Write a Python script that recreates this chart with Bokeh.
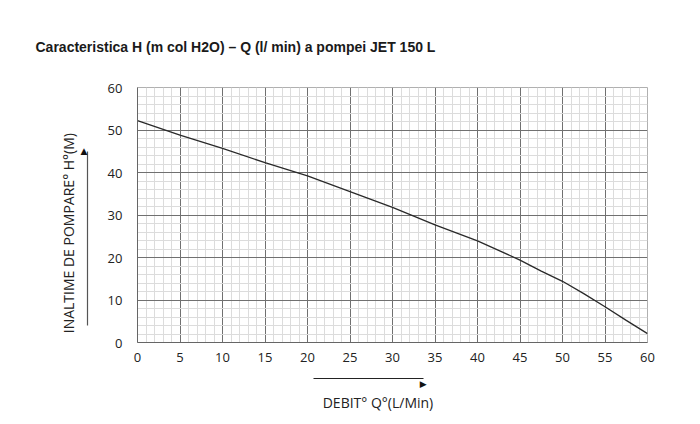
import math
from bokeh.plotting import figure
from bokeh.models import (SingleIntervalTicker, FixedTicker, LinearAxis, PrintfTickFormatter,
                          Range1d)
from bokeh.embed import file_html
from bokeh.resources import INLINE

# Data
flow_q = [0, 5, 10, 15, 20, 25, 30, 35, 40, 45, 47.5, 50, 52.5, 55, 57.5, 60]
head_h = [52.2, 48.8, 45.7, 42.3, 39.2, 35.5, 31.8, 27.7, 23.9, 19.4, 16.8, 14.4, 11.5, 8.4, 5.2, 2.1]
title_text = "Caracteristica H (m col H2O) \u2013 Q (l/ min) a pompei JET 150 L"
x_label_text = "DEBIT\u00b0 Q\u00b0(L/Min)"
y_label_text = "INALTIME DE POMPARE\u00b0  H\u00b0(M)"
# arrow extents (data units, drawn outside the frame by extra axes)
y_arrow = (3.9, 45.0)
x_arrow = (20.7, 33.6)

p = figure(width=684, height=420, output_backend="svg", toolbar_location=None,
           x_range=Range1d(0, 60), y_range=Range1d(0, 60),
           min_border_left=137, min_border_right=37, min_border_top=87, min_border_bottom=78)
p.background_fill_color = "white"
p.border_fill_color = "white"
p.outline_line_color = "#b0b0b0"

p.title.text = title_text
p.title.text_font = "Liberation Sans"
p.title.text_font_style = "bold"
p.title.text_font_size = "14px"
p.title.text_color = "#1a1a1a"
p.title.align = "left"
p.title.offset = -102
p.title.standoff = 66

xt = SingleIntervalTicker(interval=5, num_minor_ticks=5)
yt = SingleIntervalTicker(interval=10, num_minor_ticks=5)
p.xaxis.ticker = xt
p.yaxis.ticker = yt
p.xgrid.ticker = xt
p.ygrid.ticker = yt

for g in (p.xgrid, p.ygrid):
    g.bounds = (0, 60)
    g.grid_line_color = "#707070"
    g.grid_line_width = 1
    g.minor_grid_line_color = "#dcdcdc"
    g.minor_grid_line_width = 1

for ax in (p.xaxis, p.yaxis):
    ax.axis_line_color = "#666666"
    ax.major_tick_line_color = None
    ax.minor_tick_line_color = None
    ax.major_label_text_font = "Open Sans"
    ax.major_label_text_font_size = "13px"
    ax.major_label_text_color = "#222222"
p.xaxis.major_label_standoff = 4
p.yaxis.major_label_standoff = 9
# pad y tick labels on the left (invisible no-break spaces) to make room for the arrow
p.yaxis.formatter = PrintfTickFormatter(format="\u00a0" * 5 + "%d")
# invisible spacer label under x tick labels
p.xaxis.axis_label = "."
p.xaxis.axis_label_text_alpha = 0
p.xaxis.axis_label_text_font_size = "8px"
p.xaxis.axis_label_standoff = 6

p.line(flow_q, head_h, line_color="#2a2a2a", line_width=1.3)

# Y arrow + label
ya = LinearAxis(ticker=FixedTicker(ticks=[y_arrow[1]], minor_ticks=[]),
                formatter=PrintfTickFormatter(format="\u25b2"),
                bounds=y_arrow, axis_line_color="#555555", axis_line_width=1.2,
                major_tick_line_color=None, minor_tick_line_color=None,
                major_tick_in=0, major_tick_out=-4,
                major_label_standoff=0, major_label_text_font="DejaVu Sans",
                major_label_text_font_size="9px", major_label_text_color="#111111",
                axis_label=y_label_text + "\u00a0" * 9, axis_label_standoff=0,
                axis_label_text_font="Open Sans", axis_label_text_font_size="14px",
                axis_label_text_font_style="normal", axis_label_text_color="#222222")
p.add_layout(ya, "left")

# X arrow + label
xa = LinearAxis(ticker=FixedTicker(ticks=[x_arrow[1]], minor_ticks=[]),
                formatter=PrintfTickFormatter(format="\u25b6"),
                bounds=x_arrow, axis_line_color="#222222", axis_line_width=1.2,
                major_tick_line_color=None, minor_tick_line_color=None,
                major_tick_in=0, major_tick_out=-5,
                major_label_standoff=0, major_label_text_font="DejaVu Sans",
                major_label_text_font_size="9px", major_label_text_color="#111111",
                axis_label=x_label_text + "\u00a0" * 8, axis_label_standoff=1,
                axis_label_text_font="Open Sans", axis_label_text_font_size="14px",
                axis_label_text_font_style="normal", axis_label_text_color="#222222")
p.add_layout(xa, "below")

open("out.html", "w").write(file_html(p, INLINE))
